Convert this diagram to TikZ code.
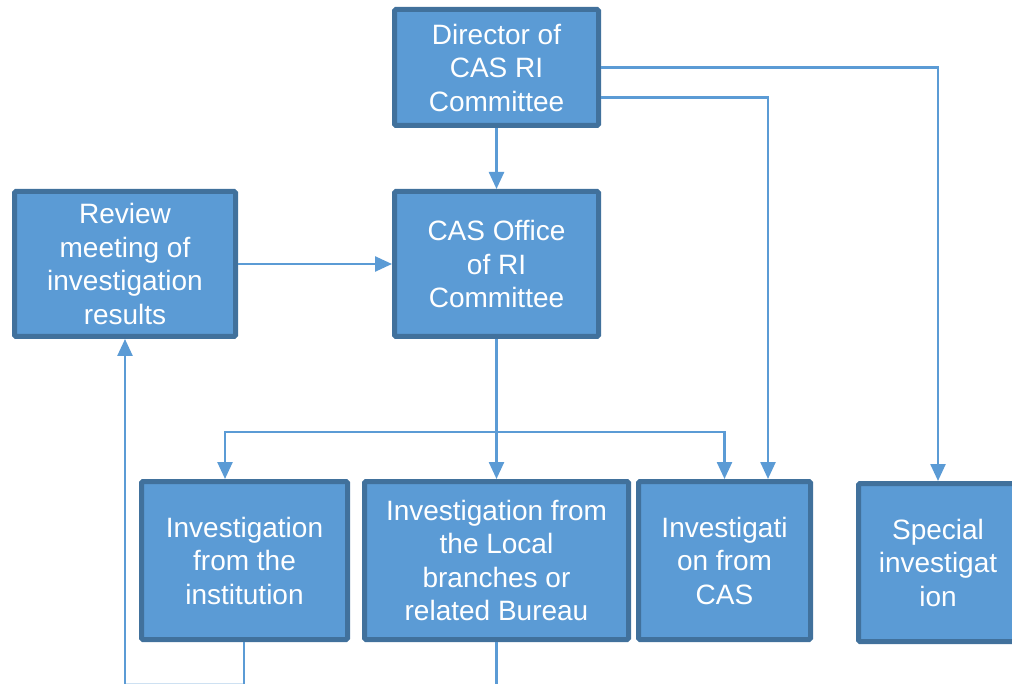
\documentclass[tikz,border=0pt]{standalone}
\usepackage{fontspec}
\setmainfont{Liberation Sans}
\usetikzlibrary{arrows.meta,calc}
\definecolor{boxfill}{HTML}{5B9BD5}
\definecolor{boxline}{HTML}{41719C}
\definecolor{conncol}{HTML}{5B9BD5}
\tikzset{
  box/.style={rectangle, rounded corners=1.5pt, fill=boxfill, draw=boxline, line width=5pt,
    text=white, align=center, inner sep=0pt,
    font=\fontsize{28}{33.5}\selectfont},
  conn/.style={draw=conncol, line width=2.5pt, -{Triangle[width=15pt,length=17pt]}},
  plain/.style={draw=conncol, line width=2.5pt},
  faint/.style={draw=conncol!30, line width=1.5pt}
}
\begin{document}
\begin{tikzpicture}[x=1pt,y=-1pt]
\useasboundingbox (0,0) rectangle (1012,684);
\clip (0,0) rectangle (1012,684);
\node[box, minimum width=204pt, minimum height=116pt] (dir) at (496.5,67.5) {Director of\\CAS RI\\Committee};
\node[box, minimum width=204pt, minimum height=145pt] (office) at (496.5,264) {CAS Office\\of RI\\Committee};
\node[box, minimum width=221pt, minimum height=145pt] (review) at (125,264) {Review\\meeting of\\investigation\\results};
\node[box, minimum width=206pt, minimum height=158pt] (inst) at (244.5,560.5) {Investigation\\from the\\institution};
\node[box, minimum width=264pt, minimum height=158pt] (local) at (496.5,560.5) {Investigation from\\the Local\\branches or\\related Bureau};
\node[box, minimum width=172pt, minimum height=158pt] (casinv) at (724.5,560.5) {Investigati\\on from\\CAS};
\node[box, minimum width=159pt, minimum height=158pt] (special) at (938,562.5) {Special\\investigat\\ion};
\coordinate (j) at (496.5,432);
\coordinate (b1) at (125,684);
\coordinate (b2) at (244,684);
\coordinate (b3) at (496.5,684);
\draw[conn] (dir.south) -- (office.north);
\draw[conn] (dir.east) -| (special.north);
\draw[conn] ([yshift=-30pt]dir.east) -| ([xshift=43.5pt]casinv.north);
\draw[conn] (review.east) -- (office.west);
\draw[conn] (office.south) -- (local.north);
\draw[conn] (j) -| ([xshift=-19.5pt]inst.north);
\draw[conn] (j) -| (casinv.north);
\draw[faint] (b1) -- (b2);
\draw[conn] (b1) -- (review.south);
\draw[plain] ([xshift=-0.5pt]inst.south) -- (b2);
\draw[plain] (local.south) -- (b3);
\end{tikzpicture}
\end{document}
